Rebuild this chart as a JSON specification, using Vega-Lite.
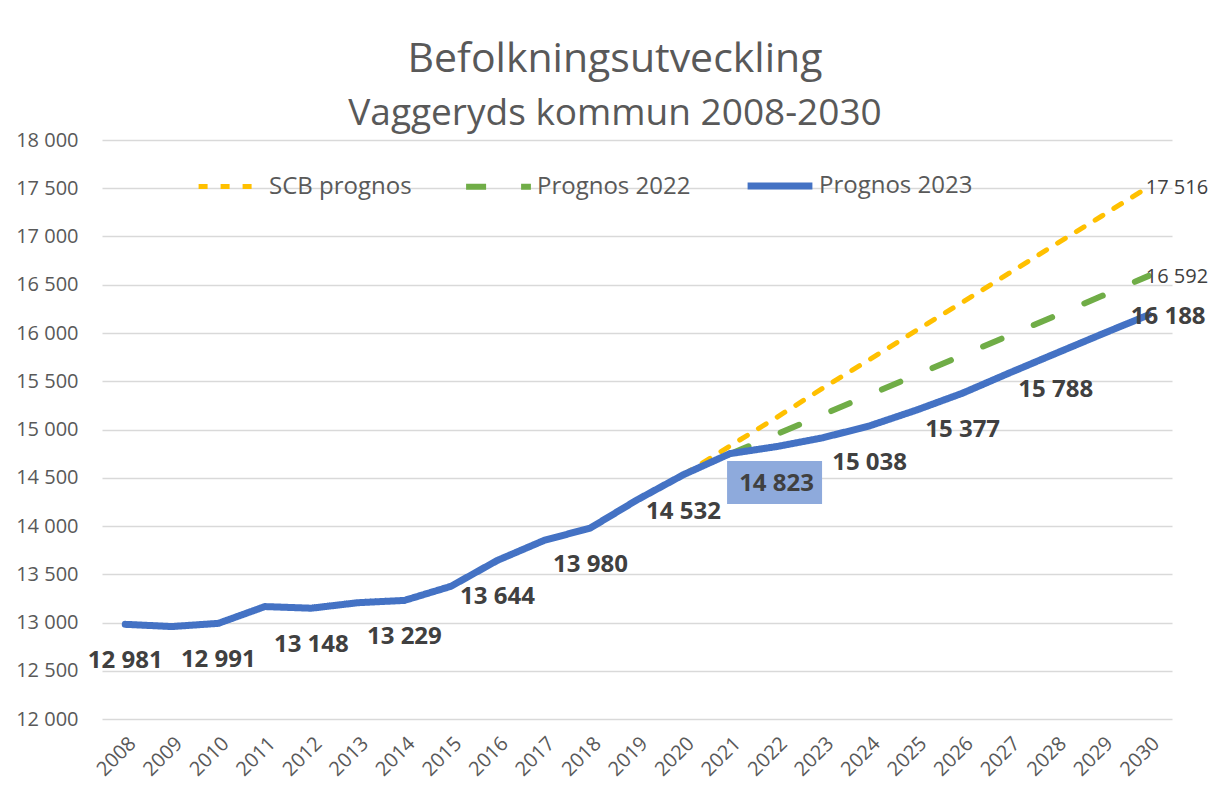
{
  "$schema": "https://vega.github.io/schema/vega-lite/v6.json",
  "width": 1070,
  "height": 579,
  "autosize": {"type": "none"},
  "padding": {"left": 102, "top": 140, "right": 43, "bottom": 71},
  "background": "white",
  "config": {
    "view": {"stroke": null},
    "font": "Open Sans",
    "locale": {"number": {"decimal": ",", "thousands": " ", "grouping": [3], "currency": ["", " kr"]}}
  },
  "title": {
    "text": "Befolkningsutveckling",
    "subtitle": "Vaggeryds kommun 2008-2030",
    "anchor": "middle",
    "frame": "group",
    "dx": -22,
    "offset": -3,
    "fontSize": 41,
    "fontWeight": "normal",
    "color": "#595959",
    "subtitleFontSize": 37,
    "subtitleColor": "#595959",
    "subtitlePadding": 15,
    "font": "Open Sans",
    "subtitleFont": "Open Sans"
  },
  "data": {
    "values": [
      {"serie": "SCB prognos", "year": "2020", "value": 14532},
      {"serie": "SCB prognos", "year": "2021", "value": 14830},
      {"serie": "SCB prognos", "year": "2022", "value": 15125},
      {"serie": "SCB prognos", "year": "2023", "value": 15430},
      {"serie": "SCB prognos", "year": "2024", "value": 15725},
      {"serie": "SCB prognos", "year": "2025", "value": 16025},
      {"serie": "SCB prognos", "year": "2026", "value": 16320},
      {"serie": "SCB prognos", "year": "2027", "value": 16620},
      {"serie": "SCB prognos", "year": "2028", "value": 16920},
      {"serie": "SCB prognos", "year": "2029", "value": 17215},
      {"serie": "SCB prognos", "year": "2030", "value": 17516},
      {"serie": "Prognos 2022", "year": "2021", "value": 14745},
      {"serie": "Prognos 2022", "year": "2022", "value": 14950},
      {"serie": "Prognos 2022", "year": "2023", "value": 15155},
      {"serie": "Prognos 2022", "year": "2024", "value": 15360},
      {"serie": "Prognos 2022", "year": "2025", "value": 15565},
      {"serie": "Prognos 2022", "year": "2026", "value": 15770},
      {"serie": "Prognos 2022", "year": "2027", "value": 15975},
      {"serie": "Prognos 2022", "year": "2028", "value": 16180},
      {"serie": "Prognos 2022", "year": "2029", "value": 16385},
      {"serie": "Prognos 2022", "year": "2030", "value": 16592},
      {"serie": "Prognos 2023", "year": "2008", "value": 12981},
      {"serie": "Prognos 2023", "year": "2009", "value": 12958},
      {"serie": "Prognos 2023", "year": "2010", "value": 12991},
      {"serie": "Prognos 2023", "year": "2011", "value": 13165},
      {"serie": "Prognos 2023", "year": "2012", "value": 13148},
      {"serie": "Prognos 2023", "year": "2013", "value": 13205},
      {"serie": "Prognos 2023", "year": "2014", "value": 13229},
      {"serie": "Prognos 2023", "year": "2015", "value": 13375},
      {"serie": "Prognos 2023", "year": "2016", "value": 13644},
      {"serie": "Prognos 2023", "year": "2017", "value": 13850},
      {"serie": "Prognos 2023", "year": "2018", "value": 13980},
      {"serie": "Prognos 2023", "year": "2019", "value": 14270},
      {"serie": "Prognos 2023", "year": "2020", "value": 14532},
      {"serie": "Prognos 2023", "year": "2021", "value": 14750},
      {"serie": "Prognos 2023", "year": "2022", "value": 14823},
      {"serie": "Prognos 2023", "year": "2023", "value": 14915},
      {"serie": "Prognos 2023", "year": "2024", "value": 15038},
      {"serie": "Prognos 2023", "year": "2025", "value": 15200},
      {"serie": "Prognos 2023", "year": "2026", "value": 15377},
      {"serie": "Prognos 2023", "year": "2027", "value": 15585},
      {"serie": "Prognos 2023", "year": "2028", "value": 15788},
      {"serie": "Prognos 2023", "year": "2029", "value": 15990},
      {"serie": "Prognos 2023", "year": "2030", "value": 16188}
    ]
  },
  "encoding": {
    "x": {
      "field": "year",
      "type": "ordinal",
      "scale": {"type": "point", "padding": 0.5, "domain": ["2008","2009","2010","2011","2012","2013","2014","2015","2016","2017","2018","2019","2020","2021","2022","2023","2024","2025","2026","2027","2028","2029","2030"]},
      "axis": {
        "title": null,
        "labelAngle": -45,
        "labelFontSize": 20,
        "labelColor": "#595959",
        "labelPadding": 14,
        "domain": false,
        "ticks": false,
        "grid": false
      }
    },
    "y": {
      "field": "value",
      "type": "quantitative",
      "scale": {"domain": [12000, 18000], "nice": false, "zero": false},
      "axis": {
        "title": null,
        "values": [12000, 12500, 13000, 13500, 14000, 14500, 15000, 15500, 16000, 16500, 17000, 17500, 18000],
        "format": ",d",
        "labelFontSize": 20,
        "labelColor": "#595959",
        "labelPadding": 24,
        "domain": false,
        "ticks": false,
        "gridColor": "#d9d9d9",
        "gridWidth": 1.5
      }
    }
  },
  "layer": [
    {
      "mark": {"type": "line", "strokeCap": "round", "strokeJoin": "round"},
      "encoding": {
        "color": {
          "field": "serie",
          "type": "nominal",
          "scale": {"domain": ["SCB prognos", "Prognos 2022", "Prognos 2023"], "range": ["#ffc000", "#70ad47", "#4472c4"]},
          "legend": {
            "title": null,
            "orient": "none",
            "legendX": 94,
            "legendY": 10,
            "direction": "horizontal",
            "symbolType": "stroke",
            "symbolSize": 4200,
            "labelFontSize": 24,
            "labelColor": "#595959",
            "labelOffset": 3,
            "columnPadding": 42,
            "labelLimit": 300
          }
        },
        "strokeDash": {
          "field": "serie",
          "type": "nominal",
          "scale": {"domain": ["SCB prognos", "Prognos 2022", "Prognos 2023"], "range": [[9, 13], [20, 35], [1, 0]]},
          "legend": {
            "title": null,
            "orient": "none",
            "legendX": 94,
            "legendY": 10,
            "direction": "horizontal",
            "symbolType": "stroke",
            "symbolSize": 4200,
            "labelFontSize": 24,
            "labelColor": "#595959",
            "labelOffset": 3,
            "columnPadding": 42,
            "labelLimit": 300
          }
        },
        "strokeWidth": {
          "field": "serie",
          "type": "nominal",
          "scale": {"domain": ["SCB prognos", "Prognos 2022", "Prognos 2023"], "range": [5, 7, 8]},
          "legend": {
            "title": null,
            "orient": "none",
            "legendX": 94,
            "legendY": 10,
            "direction": "horizontal",
            "symbolType": "stroke",
            "symbolSize": 4200,
            "labelFontSize": 24,
            "labelColor": "#595959",
            "labelOffset": 3,
            "columnPadding": 42,
            "labelLimit": 300
          }
        }
      }
    },
    {
      "transform": [{"filter": "datum.serie == 'Prognos 2023' && datum.year == '2022'"}],
      "mark": {"type": "point", "shape": "M-1,-0.453H1V0.453H-1Z", "size": 9025, "filled": true, "color": "#8eaadc", "opacity": 1, "yOffset": 36, "xOffset": -2},
      "encoding": {}
    },
    {
      "transform": [
        {"filter": "datum.serie == 'Prognos 2023'"},
        {"filter": {"field": "year", "oneOf": ["2008","2010","2012","2014","2016","2018","2020","2022","2024","2026","2028"]}}
      ],
      "mark": {"type": "text", "fontSize": 24, "fontWeight": "bold", "color": "#404040", "dy": 37, "align": "center", "baseline": "middle"},
      "encoding": {"text": {"field": "value", "type": "quantitative", "format": ",d"}}
    },
    {
      "transform": [{"filter": "datum.serie == 'Prognos 2023' && datum.year == '2030'"}],
      "mark": {"type": "text", "fontSize": 24, "fontWeight": "bold", "color": "#404040", "dx": -18, "dy": 2, "align": "left", "baseline": "middle"},
      "encoding": {"text": {"field": "value", "type": "quantitative", "format": ",d"}}
    },
    {
      "transform": [{"filter": "datum.serie != 'Prognos 2023' && datum.year == '2030'"}],
      "mark": {"type": "text", "fontSize": 20, "color": "#404040", "dx": -3, "dy": 1, "align": "left", "baseline": "middle"},
      "encoding": {"text": {"field": "value", "type": "quantitative", "format": ",d"}}
    }
  ]
}
